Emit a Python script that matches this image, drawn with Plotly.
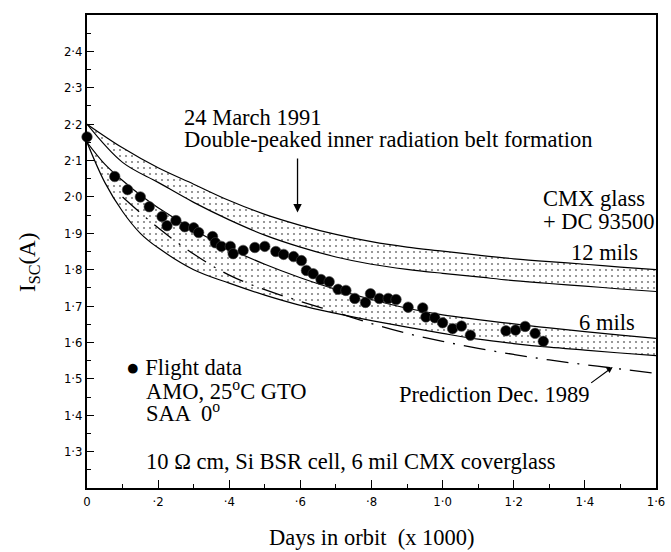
import plotly.graph_objects as go

# ---------------- data ----------------
band_x = [0, 0.1, 0.2, 0.3, 0.4, 0.5, 0.6, 0.7, 0.8, 0.9, 1.0, 1.1, 1.2, 1.3, 1.4, 1.5, 1.6]
mil12_top = [2.20, 2.135, 2.08, 2.035, 1.99, 1.952, 1.922, 1.897, 1.877, 1.862, 1.851, 1.84, 1.83, 1.822, 1.815, 1.807, 1.80]
mil12_bot = [2.20, 2.095, 2.04, 1.985, 1.937, 1.895, 1.862, 1.835, 1.815, 1.801, 1.79, 1.78, 1.77, 1.762, 1.755, 1.747, 1.74]

band6_x = [0, 0.05, 0.1, 0.15, 0.2, 0.3, 0.4, 0.5, 0.6, 0.7, 0.8, 0.9, 1.0, 1.1, 1.2, 1.3, 1.4, 1.5, 1.6]
mil6_top = [2.15, 2.09, 2.045, 2.005, 1.97, 1.91, 1.858, 1.815, 1.778, 1.746, 1.718, 1.694, 1.676, 1.663, 1.651, 1.64, 1.63, 1.62, 1.611]
mil6_bot = [2.15, 2.04, 1.96, 1.90, 1.86, 1.80, 1.763, 1.73, 1.702, 1.68, 1.66, 1.642, 1.625, 1.609, 1.597, 1.587, 1.579, 1.571, 1.564]

pred_x = [0.1, 0.2, 0.3, 0.4, 0.5, 0.6, 0.7, 0.8, 0.9, 1.0, 1.1, 1.2, 1.3, 1.4, 1.5, 1.6]
pred_y = [2.0, 1.915, 1.843, 1.785, 1.745, 1.713, 1.683, 1.652, 1.625, 1.603, 1.584, 1.567, 1.552, 1.539, 1.527, 1.515]

flight_x = [0, 0.078, 0.114, 0.15, 0.175, 0.211, 0.225, 0.25, 0.275, 0.3, 0.314, 0.353, 0.361,
            0.378, 0.403, 0.411, 0.439, 0.472, 0.5, 0.531, 0.553, 0.581, 0.603, 0.617, 0.636,
            0.658, 0.681, 0.706, 0.728, 0.753, 0.783, 0.797, 0.822, 0.847, 0.869, 0.903, 0.944,
            0.953, 0.978, 1.0, 1.028, 1.053, 1.078, 1.178, 1.205, 1.232, 1.26, 1.283]
flight_y = [2.165, 2.056, 2.02, 2.0, 1.973, 1.946, 1.921, 1.935, 1.918, 1.915, 1.902, 1.891, 1.874,
            1.864, 1.864, 1.844, 1.853, 1.861, 1.864, 1.85, 1.842, 1.836, 1.825, 1.798, 1.789,
            1.773, 1.767, 1.746, 1.743, 1.721, 1.71, 1.734, 1.721, 1.721, 1.718, 1.697, 1.695,
            1.67, 1.668, 1.654, 1.638, 1.645, 1.62, 1.632, 1.634, 1.644, 1.625, 1.603]

x_ticks = [0, 0.2, 0.4, 0.6, 0.8, 1.0, 1.2, 1.4, 1.6]
x_ticktext = ["0", "·2", "·4", "·6", "·8", "1·0", "1·2", "1·4", "1·6"]
y_ticks = [1.3, 1.4, 1.5, 1.6, 1.7, 1.8, 1.9, 2.0, 2.1, 2.2, 2.3, 2.4]
y_ticktext = ["1·3", "1·4", "1·5", "1·6", "1·7", "1·8", "1·9", "2·0", "2·1", "2·2", "2·3", "2·4"]

SERIF = "Liberation Serif, Times New Roman, serif"
TICKF = "DejaVu Sans Condensed, DejaVu Sans, sans-serif"

# page geometry
W, H = 671, 552
L, R, T, B = 87, 6, 15, 64
PW, PH = W - L - R, H - T - B

def px(xp):
    return (xp - L) / PW

def py(yp):
    return (H - B - yp) / PH

fig = go.Figure()

stip = dict(shape=".", fgcolor="black", bgcolor="white", size=6, solidity=0.1)
line_st = dict(color="black", width=1.2)

# 12 mil band
fig.add_trace(go.Scatter(x=band_x, y=mil12_bot, mode="lines", line=line_st, line_shape="spline", showlegend=False))
fig.add_trace(go.Scatter(x=band_x, y=mil12_top, mode="lines", line=line_st, line_shape="spline",
                         fill="tonexty", fillcolor="white", fillpattern=stip, showlegend=False))
# 6 mil band
fig.add_trace(go.Scatter(x=band6_x, y=mil6_bot, mode="lines", line=line_st, line_shape="spline", showlegend=False))
fig.add_trace(go.Scatter(x=band6_x, y=mil6_top, mode="lines", line=line_st, line_shape="spline",
                         fill="tonexty", fillcolor="white", fillpattern=stip, showlegend=False))
# prediction
fig.add_trace(go.Scatter(x=pred_x, y=pred_y, mode="lines", line_shape="spline",
                         line=dict(color="black", width=1.3, dash="22px,9px,2px,9px"), showlegend=False))
# flight data
fig.add_trace(go.Scatter(x=flight_x, y=flight_y, mode="markers", cliponaxis=False,
                         marker=dict(symbol="circle", size=10.5, color="black",
                                     line=dict(color="#444", width=0.6)), showlegend=False))

FS = 22.5
ann = []
def text(xp, yp, s, size=FS, anchor="left"):
    ann.append(dict(xref="paper", yref="paper", x=px(xp), y=py(yp), text=s, showarrow=False,
                    xanchor=anchor, yanchor="middle", font=dict(family=SERIF, size=size, color="black")))

text(183, 117, "24 March 1991")
text(183, 139, "Double-peaked inner radiation belt formation")
text(548, 198, "CMX glass")
text(548, 221, "+ DC 93500")
text(577, 252, "12 mils")
text(585, 322, "6 mils")
text(402, 394, "Prediction Dec. 1989")
text(125, 367, "● Flight data")
text(145, 390, "AMO, 25<sup>o</sup>C GTO")
text(145, 412, "SAA  0<sup>o</sup>")
text(145, 461, "10 Ω cm, Si BSR cell, 6 mil CMX coverglass")

# arrow pointing down at the belt formation
ann.append(dict(xref="x", yref="y", x=0.592, y=1.957, ax=0.592, ay=2.11, axref="x", ayref="y",
                showarrow=True, arrowhead=2, arrowsize=1.3, arrowwidth=1.3, arrowcolor="black", text=""))
# arrow for prediction label
ann.append(dict(xref="paper", yref="paper", x=px(621), y=py(367), ax=-23, ay=17,
                showarrow=True, arrowhead=2, arrowsize=1,
                arrowwidth=1.2, arrowcolor="black", text=""))

# axis titles
ann.append(dict(xref="paper", yref="paper", x=px(28), y=py(262), text="I<sub>SC</sub>(A)", textangle=-90,
                showarrow=False, xanchor="center", yanchor="middle",
                font=dict(family=SERIF, size=23, color="black")))
ann.append(dict(xref="paper", yref="paper", x=px(376), y=py(537), text="Days in orbit  (x 1000)",
                showarrow=False, xanchor="center", yanchor="middle",
                font=dict(family=SERIF, size=FS, color="black")))

fig.update_layout(
    width=W, height=H, margin=dict(l=L, r=R, t=T, b=B),
    paper_bgcolor="white", plot_bgcolor="white", annotations=ann,
    xaxis=dict(range=[0, 1.6], tickvals=x_ticks, ticktext=x_ticktext, ticks="inside", ticklen=8,
               tickwidth=1.3, tickcolor="black", showgrid=False, zeroline=False, showline=True,
               linecolor="black", linewidth=1.8, mirror=True, ticklabeloverflow="allow",
               tickfont=dict(family=TICKF, size=13, color="black"),
               minor=dict(dtick=0.1, ticks="inside", ticklen=4, tickwidth=1.2, tickcolor="black")),
    yaxis=dict(range=[1.2, 2.5], tickvals=y_ticks, ticktext=y_ticktext, ticks="inside", ticklen=7,
               tickwidth=1.3, tickcolor="black", showgrid=False, zeroline=False, showline=True,
               linecolor="black", linewidth=1.8, mirror=True,
               tickfont=dict(family=TICKF, size=13, color="black"),
               minor=dict(dtick=0.05, tick0=1.2, ticks="inside", ticklen=4, tickwidth=1.2, tickcolor="black")),
)

fig.write_html("out.html")
